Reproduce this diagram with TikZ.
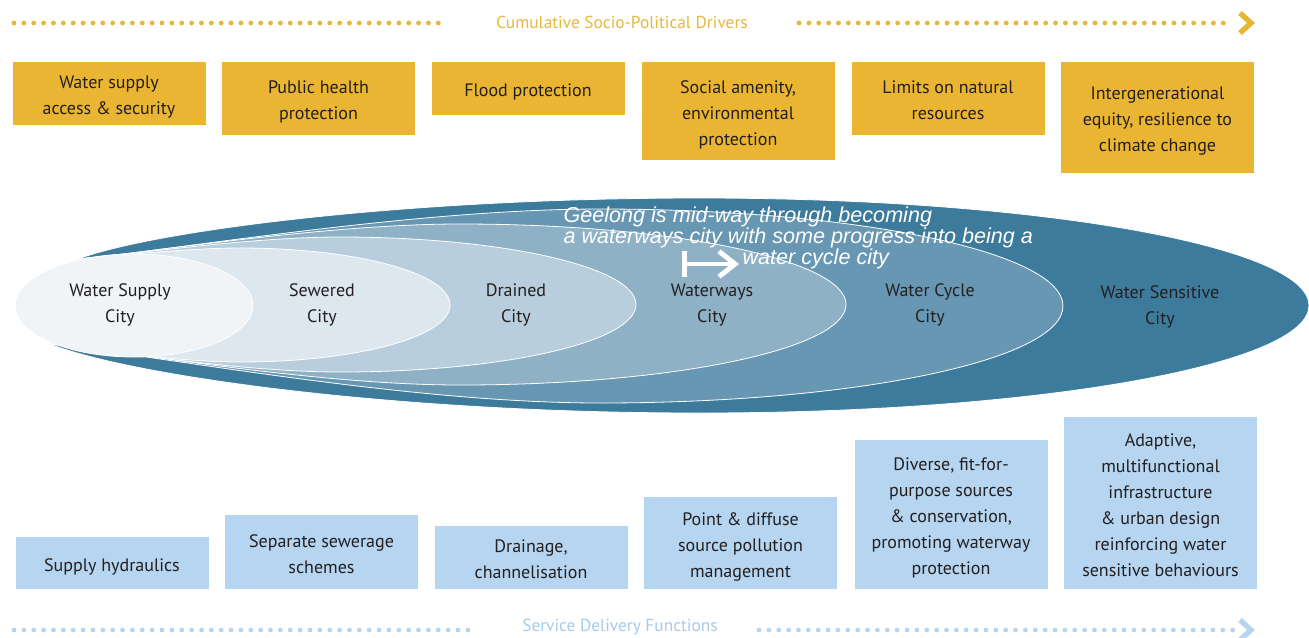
\documentclass[tikz,border=0pt]{standalone}
\usepackage{fontspec}
\setmainfont{PT Sans}
\newfontfamily\notefont{Liberation Sans}
\usetikzlibrary{arrows.meta}

% 颜色
\definecolor{gold}{RGB}{234,181,51}
\definecolor{goldtext}{RGB}{232,184,62}
\definecolor{skyblue}{RGB}{182,213,240}
\definecolor{skytext}{RGB}{165,203,236}
\definecolor{inktext}{RGB}{35,31,32}
\definecolor{citySensitive}{RGB}{61,123,156}
\definecolor{cityCycle}{RGB}{103,151,178}
\definecolor{cityWaterways}{RGB}{142,177,198}
\definecolor{cityDrained}{RGB}{184,206,220}
\definecolor{citySewered}{RGB}{220,231,238}
\definecolor{citySupply}{RGB}{240,244,247}

\begin{document}
\begin{tikzpicture}[x=0.75pt, y=-0.75pt, >=Stealth, thick,
    % 文字框: text height = (行数-1)*19.5pt + 12.5pt
    driver/.style={fill=gold, text=inktext, minimum width=144.75pt, inner sep=0pt, align=center,
        font=\fontsize{13.5}{19.5}\selectfont, text depth=0pt},
    service/.style={driver, fill=skyblue},
    citylayer/.style={draw=white, line width=0.6pt},
    citylabel/.style={text=inktext, align=center, font=\fontsize{13.5}{19.5}\selectfont,
        text height=29.5pt, text depth=0pt},
    dotline/.style={line width=3.6pt, line cap=round, dash pattern=on 0pt off 7.4pt},
    chevron/.style={line width=4pt},
    note/.style={text=white, inner sep=0pt, anchor=base west,
        font=\notefont\itshape\fontsize{16.2}{16.5}\selectfont}]
        % 画布 (按像素坐标, 1px = 0.75pt)
        \path[use as bounding box, fill=white] (0,0) rectangle (1309,637);

        % 上方虚点线 + 标题
        \node[text=goldtext, font=\fontsize{13}{15}\selectfont] (drivers) at (622,22) {Cumulative Socio-Political Drivers};
        \coordinate (drvStart) at (14,23);
        \coordinate (drvGapL) at (443,23);
        \coordinate (drvGapR) at (799,23);
        \coordinate (drvEnd) at (1233,23);
        \draw[dotline, gold] (drvStart) -- (drvGapL);
        \draw[dotline, gold] (drvGapR) -- (drvEnd);
        \draw[chevron, gold] (1240,13) -- (1251,23) -- (1240,33);

        % 驱动因素 (橙色框)
        \node[driver, minimum height=47.25pt, text height=32pt] (drvSupply) at (109,93.5) {Water supply\\access \& security};
        \node[driver, minimum height=54.75pt, text height=32pt] (drvHealth) at (318.5,98.5) {Public health\\protection};
        \node[driver, minimum height=39.75pt, text height=12.5pt] (drvFlood) at (528,88.5) {Flood protection};
        \node[driver, minimum height=73.5pt, text height=51.5pt] (drvAmenity) at (738,111) {Social amenity,\\environmental\\protection};
        \node[driver, minimum height=54.75pt, text height=32pt] (drvLimits) at (948,98.5) {Limits on natural\\resources};
        \node[driver, minimum height=83.25pt, text height=51.5pt] (drvEquity) at (1157.5,117.5) {Intergenerational\\equity, resilience to\\climate change};

        % 城市层 (由外向内)
        \fill[citylayer, fill=citySensitive] (78,259) .. controls (153,231) and (402,198) .. (700,198)
            .. controls (1036,198) and (1309,246) .. (1309,305.5)
            .. controls (1309,365) and (1036,413) .. (700,413)
            .. controls (388,413) and (128,375) .. (50,344) -- cycle;
        \fill[citylayer, fill=cityCycle] (78,259) .. controls (182,249) and (417,209) .. (600,209)
            .. controls (856,209) and (1063,252) .. (1063,306)
            .. controls (1063,360) and (856,403) .. (600,403)
            .. controls (407,403) and (160,356) .. (50,344) -- cycle;
        \fill[citylayer, fill=cityWaterways] (78,259) .. controls (154,252) and (326,224) .. (460,224)
            .. controls (673,224) and (846,260) .. (846,304.5)
            .. controls (846,349) and (673,385) .. (460,385)
            .. controls (316,385) and (132,352) .. (50,344) -- cycle;
        \fill[citylayer, fill=cityDrained] (78,259) .. controls (130,255) and (248,237) .. (340,237)
            .. controls (503,237) and (636,267) .. (636,304.5)
            .. controls (636,342) and (503,372) .. (340,372)
            .. controls (238,372) and (108,350) .. (50,344) -- cycle;
        \fill[citylayer, fill=citySewered] (78,259) .. controls (110,257) and (183,248) .. (240,248)
            .. controls (356,248) and (450,273) .. (450,305)
            .. controls (450,337) and (356,362) .. (240,362)
            .. controls (173,362) and (88,348) .. (50,344) -- cycle;
        \fill[citylayer, fill=citySupply] (134,305.5) ellipse [x radius=119, y radius=51.5];

        % 城市名称
        \node[citylabel] (lblSupply) at (120,303) {Water Supply\\City};
        \node[citylabel] (lblSewered) at (322,303) {Sewered\\City};
        \node[citylabel] (lblDrained) at (516,303) {Drained\\City};
        \node[citylabel] (lblWaterways) at (712,303) {Waterways\\City};
        \node[citylabel] (lblCycle) at (930,303) {Water Cycle\\City};
        \node[citylabel] (lblSensitive) at (1160,305) {Water Sensitive\\City};

        % 说明文字 + 进度箭头
        \node[note] (noteA) at (563,222) {Geelong is mid-way through becoming};
        \node[note] (noteB) at (563,243) {a waterways city with some progress into being a};
        \node[note] (noteC) at (742,264) {water cycle city};
        \coordinate (progFrom) at (682,264);
        \coordinate (progTo) at (739,264);
        \draw[white, line width=3.7pt, {Bar[width=20pt]}-{Straight Barb[length=12pt, width=19pt]}] (progFrom) -- (progTo);

        % 服务功能 (蓝色框)
        \node[service, minimum height=39pt, text height=12.5pt] (svcHydraulics) at (112,563) {Supply hydraulics};
        \node[service, minimum height=55.5pt, text height=32pt] (svcSewerage) at (321.5,552) {Separate sewerage\\schemes};
        \node[service, minimum height=47.25pt, text height=32pt] (svcDrainage) at (531,557.5) {Drainage,\\channelisation};
        \node[service, minimum height=69pt, text height=51.5pt] (svcPollution) at (740.5,543) {Point \& diffuse\\source pollution\\management};
        \node[service, minimum height=111.75pt, text height=90.5pt] (svcSources) at (951,514.5) {Diverse, fit-for-\\purpose sources\\\& conservation,\\promoting waterway\\protection};
        \node[service, minimum height=129pt, text height=110pt] (svcAdaptive) at (1160.5,503) {Adaptive,\\multifunctional\\infrastructure\\\& urban design\\reinforcing water\\sensitive behaviours};

        % 下方虚点线 + 标题
        \node[text=skytext, font=\fontsize{13}{15}\selectfont] (services) at (620,627) {Service Delivery Functions};
        \coordinate (svcStart) at (14,630);
        \coordinate (svcGapL) at (476,630);
        \coordinate (svcGapR) at (759,630);
        \coordinate (svcEnd) at (1233,630);
        \draw[dotline, skyblue] (svcStart) -- (svcGapL);
        \draw[dotline, skyblue] (svcGapR) -- (svcEnd);
        \draw[chevron, skyblue] (1240,620) -- (1251,630) -- (1240,640);

    \end{tikzpicture}
\end{document}
